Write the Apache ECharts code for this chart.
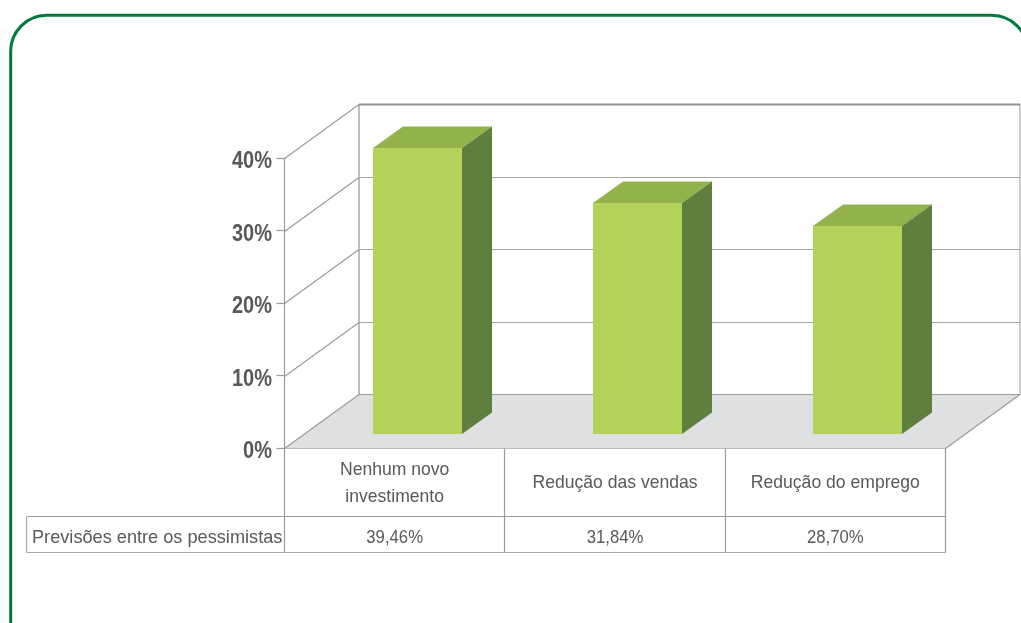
<!DOCTYPE html>
<html>
<head>
<meta charset="utf-8">
<style>html,body{margin:0;padding:0;background:#fff}#c{width:1021px;height:623px}</style>
<script src="https://cdn.jsdelivr.net/npm/echarts@6/dist/echarts.min.js"></script>
</head>
<body>
<div id="c"></div>
<script>
const categories = ['Nenhum novo\ninvestimento', 'Redução das vendas', 'Redução do emprego'];
const pessimistas = [39.46, 31.84, 28.70];
const rowTitle = 'Previsões entre os pessimistas';
const yTicks = [0, 10, 20, 30, 40];

const FONT = '"Liberation Sans",sans-serif';
const TEXT = '#58595b', LINE = '#9b9b9b';
const DX = 74.5, DY = -54;          // depth of the box
const BAR_OX = 22, BAR_OY = -14;    // bar position inside the box
const BAR_DX = 30, BAR_DY = -21.5;  // bar depth
const ROW1 = 68, ROW2 = 104, TABLE_LEFT = 26;

const chart = echarts.init(document.getElementById('c'), null, {renderer: 'canvas'});
const line = (x1, y1, x2, y2, width, color) => ({
  type: 'line', shape: {x1, y1, x2, y2},
  style: {stroke: color || LINE, lineWidth: width || 1, fill: null}, silent: true
});
const poly = (points, fill) => ({type: 'polygon', shape: {points}, style: {fill, stroke: null}, silent: true});
const label = (text, x, y, font, scaleX, align, lineHeight) => ({
  type: 'text', silent: true, x, y, scaleX, scaleY: 1,
  style: {x: 0, y: 0, text, fill: TEXT, font, align, verticalAlign: 'middle', lineHeight}
});

// box: back wall, floor, side wall, value labels
function renderBox(params, api) {
  const tick = api.value(0);
  const bw = api.size([1, 0])[0];
  const x0 = api.coord([0, 0])[0] - bw / 2;
  const x1 = x0 + bw * categories.length;
  const y = Math.round(api.coord([0, tick])[1]) + 0.5;
  const kids = [];
  const isBottom = tick === yTicks[0], isTop = tick === yTicks[yTicks.length - 1];
  if (isBottom) {
    kids.push(poly([[x0, y], [x1, y], [x1 + DX, y + DY], [x0 + DX, y + DY]], '#dfe0e2'));
    kids.push(line(x1, y, x1 + DX, y + DY, 1.2));
    kids.push(line(x0 + DX, y + DY, x1 + DX, y + DY, 1.2));
    const yTop = Math.round(api.coord([0, yTicks[yTicks.length - 1]])[1]) + 0.5;
    kids.push(line(x0 + DX, yTop + DY, x0 + DX, y + DY, 1.5, '#a8a8a8'));
    kids.push(line(x1 + DX, yTop + DY, x1 + DX, y + DY, 1.3, '#b0b0b0'));
  } else {
    kids.push(line(x0 + DX, y + DY, x1 + DX, y + DY, isTop ? 2 : 1.2, isTop ? '#949494' : '#a5a5a5'));
  }
  kids.push(line(x0, y, x0 + DX, y + DY, 1.2));
  kids.push(label(tick + '%', x0 - 12.5, y + 3.5, 'bold 23px ' + FONT, 0.87, 'right'));
  return {type: 'group', children: kids};
}

// 3D bars
function renderBar(params, api) {
  const c = api.value(0), v = api.value(1);
  const base = api.coord([c, 0]), top = api.coord([c, v]);
  const w = Math.round(api.size([1, 0])[0] * 0.404);
  const l = Math.round(base[0] + BAR_OX - w / 2 + 0.4), r = l + w;
  const yb = Math.round(base[1] + BAR_OY), yt = Math.round(top[1] + BAR_OY);
  return {type: 'group', children: [
    poly([[l, yt], [r, yt], [r + BAR_DX, yt + BAR_DY], [l + BAR_DX, yt + BAR_DY]], '#92b34c'),
    poly([[r, yt], [r + BAR_DX, yt + BAR_DY], [r + BAR_DX, yb + BAR_DY], [r, yb]], '#5f7f3f'),
    poly([[l, yt], [r, yt], [r, yb], [l, yb]], '#b2d25a')
  ]};
}

// data table under the chart
function renderTable(params, api) {
  const c = api.value(0), v = api.value(1);
  const base = api.coord([c, 0]);
  const bw = api.size([1, 0])[0];
  const l = Math.round(base[0] - bw / 2 - 0.5) + 0.5, r = Math.round(base[0] + bw / 2 - 0.5) + 0.5;
  const y = Math.round(base[1]) + 0.5;
  const W = 1.2, font = '19px ' + FONT;
  const kids = [
    line(r, y, r, y + ROW2, W),
    line(l, y + ROW1, r, y + ROW1, W),
    line(l, y + ROW2, r, y + ROW2, W, '#aaaaaa'),
    label(categories[c], base[0], y + ROW1 / 2 + 0.5, font, 0.925, 'center', 27),
    label(v.toFixed(2).replace('.', ',') + '%', base[0], y + (ROW1 + ROW2) / 2 + 3.5, font, 0.88, 'center')
  ];
  if (c === 0) {
    kids.push(line(l, y, l, y + ROW2, W));
    kids.push(line(TABLE_LEFT + 0.5, y + ROW1, l, y + ROW1, W));
    kids.push(line(TABLE_LEFT + 0.5, y + ROW2, l, y + ROW2, W, '#aaaaaa'));
    kids.push(line(TABLE_LEFT + 0.5, y + ROW1, TABLE_LEFT + 0.5, y + ROW2, W, '#aaaaaa'));
    kids.push(label(rowTitle, TABLE_LEFT + 6, y + (ROW1 + ROW2) / 2 + 3.5, font, 0.956, 'left'));
  }
  return {type: 'group', children: kids};
}

chart.setOption({
  animation: false,
  backgroundColor: '#fff',
  graphic: [{
    type: 'rect', z: -10, silent: true,
    shape: {x: 10.7, y: 15.3, width: 1017, height: 700, r: 36},
    style: {fill: '#fff', stroke: '#007a3d', lineWidth: 3}
  }],
  grid: {left: 284.5, right: 75.5, top: 158, bottom: 175},
  xAxis: {
    type: 'category', data: categories,
    axisLine: {show: true, lineStyle: {color: LINE, width: 1.2}},
    axisTick: {show: false},
    splitLine: {show: false},
    axisLabel: {show: false}
  },
  yAxis: {
    type: 'value', min: 0, max: 40, interval: 10,
    axisLine: {show: true, lineStyle: {color: LINE, width: 1.2}},
    axisTick: {show: true, length: 8, lineStyle: {color: LINE, width: 1.2}},
    splitLine: {show: false},
    axisLabel: {show: false}
  },
  series: [
    {type: 'custom', name: 'caixa', z: 1, renderItem: renderBox,
      data: yTicks.map(t => [t]), encode: {y: 0}, silent: true},
    {type: 'custom', name: 'tabela', z: 1, renderItem: renderTable,
      data: pessimistas.map((v, i) => [i, v]), encode: {x: 0, y: 1}, silent: true},
    {type: 'custom', name: 'Previsões entre os pessimistas', z: 3, renderItem: renderBar,
      data: pessimistas.map((v, i) => [i, v]), encode: {x: 0, y: 1}, silent: true}
  ]
});
</script>
</body>
</html>
